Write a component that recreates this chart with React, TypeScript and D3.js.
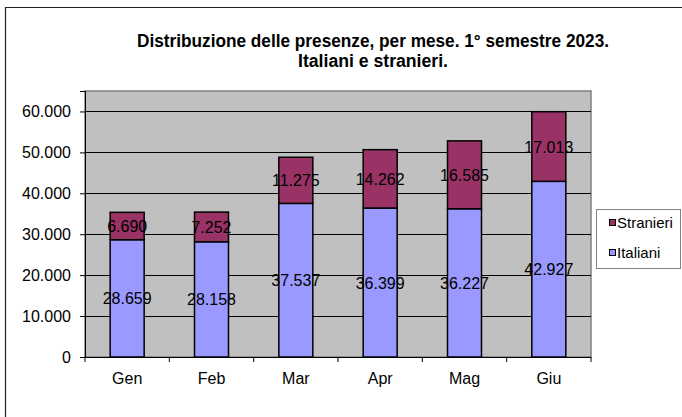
import { useEffect, useRef } from 'react';
import * as d3 from 'd3';

const months = ['Gen', 'Feb', 'Mar', 'Apr', 'Mag', 'Giu'];
const italiani = [28659, 28158, 37537, 36399, 36227, 42927];
const stranieri = [6690, 7252, 11275, 14262, 16585, 17013];
const yTicks = [0, 10000, 20000, 30000, 40000, 50000, 60000];
const titleLines = ['Distribuzione delle presenze, per mese. 1° semestre 2023.', 'Italiani e stranieri.'];

const fmt = (v: number) => d3.format(',')(v).replace(/,/g, '.');
const FONT = 'Arial, "Liberation Sans", sans-serif';

export default function App() {
  const svgRef = useRef<SVGSVGElement | null>(null);

  useEffect(() => {
    const width = 682;
    const height = 417;
    const svg = d3.select(svgRef.current)
      .attr('width', width)
      .attr('height', height)
      .style('font-family', FONT);
    svg.selectAll('*').remove();

    svg.append('rect').attr('width', width).attr('height', height).attr('fill', '#fff');

    // cornice esterna
    svg.append('path')
      .attr('d', `M5.5,${height} V7.5 H${width}`)
      .attr('fill', 'none').attr('stroke', '#222').attr('stroke-width', 1.2);

    const m = { left: 85, right: 591, top: 91, bottom: 357 };

    const x = d3.scaleBand().domain(months).range([m.left, m.right]).paddingInner(0).paddingOuter(0);
    const y = d3.scaleLinear().domain([0, 65000]).range([m.bottom, m.top]);

    // titolo
    const tl = [472, 150];
    titleLines.forEach((t, i) => {
      svg.append('text')
        .attr('x', 373).attr('y', 47 + i * 20)
        .attr('text-anchor', 'middle')
        .attr('font-size', 18).attr('font-weight', 'bold')
        .attr('textLength', tl[i]).attr('lengthAdjust', 'spacingAndGlyphs')
        .text(t);
    });

    // area del grafico
    svg.append('rect')
      .attr('x', m.left).attr('y', m.top)
      .attr('width', m.right - m.left).attr('height', m.bottom - m.top)
      .attr('fill', '#c0c0c0').attr('stroke', '#808080').attr('stroke-width', 1.5);

    svg.append('g').selectAll('line').data(yTicks.filter(d => d > 0)).join('line')
      .attr('x1', m.left).attr('x2', m.right)
      .attr('y1', d => Math.round(y(d)) + 0.5).attr('y2', d => Math.round(y(d)) + 0.5)
      .attr('stroke', '#000').attr('stroke-width', 1);

    // asse y
    const yAxis = svg.append('g')
      .attr('transform', `translate(${m.left},0)`)
      .call(d3.axisLeft(y).tickValues(yTicks).tickFormat(d => fmt(d as number)).tickSize(5).tickPadding(9));
    yAxis.select('.domain').attr('stroke', '#000');
    yAxis.selectAll('text').attr('font-size', 16).attr('fill', '#000').style('font-family', FONT);

    // barre
    const bw = 34;
    const cx = (d: string) => (x(d) as number) + x.bandwidth() / 2;
    const g = svg.append('g');
    g.selectAll('rect.it').data(months).join('rect')
      .attr('class', 'it')
      .attr('x', d => cx(d) - bw / 2).attr('width', bw)
      .attr('y', (d, i) => y(italiani[i])).attr('height', (d, i) => y(0) - y(italiani[i]))
      .attr('fill', '#9999ff').attr('stroke', '#000').attr('stroke-width', 1.5);
    g.selectAll('rect.st').data(months).join('rect')
      .attr('class', 'st')
      .attr('x', d => cx(d) - bw / 2).attr('width', bw)
      .attr('y', (d, i) => y(italiani[i] + stranieri[i])).attr('height', (d, i) => y(italiani[i]) - y(italiani[i] + stranieri[i]))
      .attr('fill', '#993366').attr('stroke', '#000').attr('stroke-width', 1.5);

    // etichette dati
    g.selectAll('text.lit').data(months).join('text')
      .attr('class', 'lit')
      .attr('x', d => cx(d)).attr('y', (d, i) => y(italiani[i] / 2) + 6)
      .attr('text-anchor', 'middle').attr('font-size', 16).attr('fill', '#000')
      .text((d, i) => fmt(italiani[i]));
    g.selectAll('text.lst').data(months).join('text')
      .attr('class', 'lst')
      .attr('x', d => cx(d)).attr('y', (d, i) => y(italiani[i] + stranieri[i] / 2) + 6)
      .attr('text-anchor', 'middle').attr('font-size', 16).attr('fill', '#000')
      .text((d, i) => fmt(stranieri[i]));

    // asse x
    const xAxis = svg.append('g')
      .attr('transform', `translate(0,${m.bottom})`)
      .call(d3.axisBottom(x).tickSize(0).tickPadding(16));
    xAxis.select('.domain').remove();
    xAxis.selectAll('text').attr('font-size', 16).attr('fill', '#000').style('font-family', FONT);
    svg.append('line').attr('x1', m.left).attr('x2', m.right).attr('y1', m.bottom + 0.5).attr('y2', m.bottom + 0.5).attr('stroke', '#000');
    svg.append('g').selectAll('line').data(d3.range(months.length + 1)).join('line')
      .attr('x1', i => m.left + i * x.bandwidth()).attr('x2', i => m.left + i * x.bandwidth())
      .attr('y1', m.bottom).attr('y2', m.bottom + 5).attr('stroke', '#000');

    // legenda
    const lg = svg.append('g').attr('transform', 'translate(596,209)');
    lg.append('rect').attr('x', 0.5).attr('y', 0.5).attr('width', 84).attr('height', 59)
      .attr('fill', '#fff').attr('stroke', '#808080');
    const items = [{ name: 'Stranieri', color: '#993366' }, { name: 'Italiani', color: '#9999ff' }];
    items.forEach((it, i) => {
      lg.append('rect').attr('x', 13.5).attr('y', 10.5 + i * 30).attr('width', 6).attr('height', 6)
        .attr('fill', it.color).attr('stroke', '#000').attr('stroke-width', 1);
      lg.append('text').attr('x', 21).attr('y', 19 + i * 30)
        .attr('font-size', 15).attr('fill', '#000').text(it.name);
    });
  }, []);

  return <svg ref={svgRef} style={{ position: 'absolute', left: 0, top: 0 }}></svg>;
}
